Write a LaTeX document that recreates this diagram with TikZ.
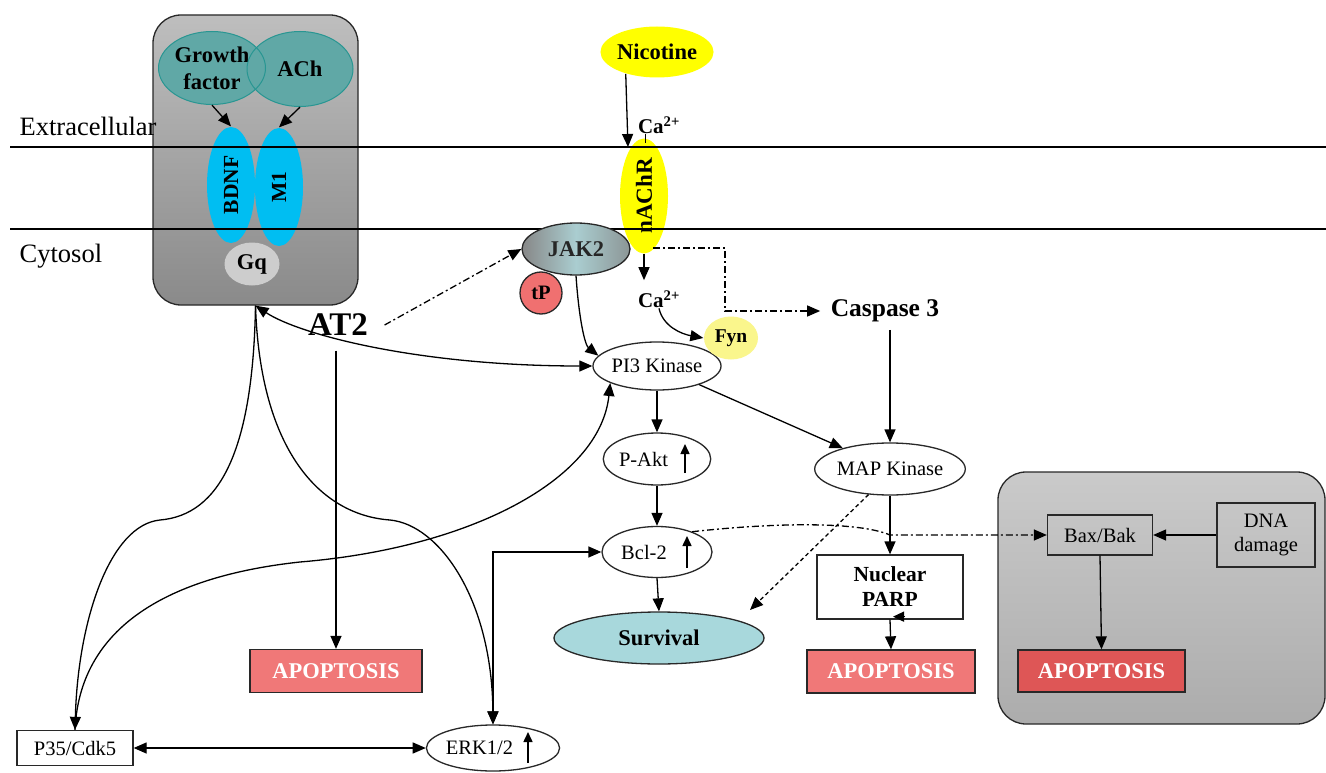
\documentclass[tikz,border=0pt]{standalone}
\usepackage{fontspec}
\setmainfont{Liberation Serif}
\usetikzlibrary{arrows.meta,shapes.geometric,calc}
\definecolor{tealF}{RGB}{96,168,166}
\definecolor{tealD}{RGB}{40,150,146}
\definecolor{cyanF}{RGB}{0,190,242}
\definecolor{yelF}{RGB}{255,255,0}
\definecolor{fynF}{RGB}{250,246,140}
\definecolor{gqF}{RGB}{205,205,205}
\definecolor{jakL}{RGB}{135,135,135}
\definecolor{jakM}{RGB}{170,205,208}
\definecolor{jakR}{RGB}{140,150,150}
\definecolor{tpF}{RGB}{240,112,112}
\definecolor{apF}{RGB}{240,120,120}
\definecolor{apD}{RGB}{222,86,86}
\definecolor{survF}{RGB}{168,216,220}
\definecolor{boxT}{RGB}{190,190,190}
\definecolor{boxB}{RGB}{138,138,138}
\definecolor{rboxT}{RGB}{202,202,202}
\definecolor{rboxB}{RGB}{172,172,172}
\definecolor{edge}{RGB}{40,40,40}
\newcommand\myfs[2]{\fontsize{#1}{#2}\selectfont}
\begin{document}
\begin{tikzpicture}[x=1pt,y=-1pt,line width=1.3pt,
  txt/.style={inner sep=0pt, align=center, font=\myfs{20.5}{24}},
  btxt/.style={inner sep=0pt, align=center, font=\myfs{22.5}{27}\bfseries},
  ell/.style={txt, ellipse, draw=edge, fill=white},
  sbox/.style={txt, rectangle, draw=edge},
  apop/.style={rectangle, draw=edge, fill=apF, text=white, inner sep=0pt, font=\myfs{22.5}{25}\bfseries},
  tealell/.style={btxt, ellipse, fill=tealF},
  cyanell/.style={btxt, ellipse, fill=cyanF, font=\myfs{21.5}{23}\bfseries},
  lbox/.style={draw=edge, rounded corners=28pt, top color=boxT, bottom color=boxB, minimum width=205pt, minimum height=290pt},
  rbox/.style={draw=edge, rounded corners=28pt, top color=rboxT, bottom color=rboxB, minimum width=327pt, minimum height=252pt},
  arr/.style={-{Triangle[length=13pt,width=11pt]}},
  arrs/.style={{Triangle[length=13pt,width=11pt]}-{Triangle[length=13pt,width=11pt]}},
  dd/.style={dash pattern=on 7pt off 3pt on 2pt off 3pt},
  ds/.style={dash pattern=on 4pt off 3pt},
  uparr/.style={-{Triangle[length=10pt,width=9pt]}, line width=1.5pt}
]
\useasboundingbox (0,0) rectangle (1326,773);
\fill[white] (0,0) rectangle (1326,773);

% left receptor box
\node[lbox] (lb) at (255.5,160) {};
\node[tealell, minimum width=107pt, minimum height=73pt] (gf) at (212,68) {Growth\\factor};
\node[tealell, minimum width=106pt, minimum height=75pt] (ach) at (300,69) {ACh};
\draw[tealD, line width=1pt] (gf.center) ellipse[x radius=53.5pt, y radius=36.5pt];
\draw[tealD, line width=1pt] (ach.center) ellipse[x radius=53pt, y radius=37.5pt];
\node[cyanell, rotate=90, minimum width=116pt, minimum height=48pt] (bdnf) at (231,185) {BDNF};
\node[cyanell, rotate=90, minimum width=118pt, minimum height=48pt] (m1) at (279,187) {M1};
\node[btxt, ellipse, fill=gqF, minimum width=55pt, minimum height=43pt] (gq) at (252,264) {Gq};
\draw[arr] (gf.south) -- (bdnf.east);
\draw[arr] (ach.south) -- (m1.east);

% nicotine / nAChR
\node[btxt, ellipse, fill=yelF, minimum width=98pt, minimum height=51pt] (nic) at (657,52) {Nicotine};
\node[btxt, ellipse, fill=yelF, rotate=90, minimum width=115pt, minimum height=48pt, font=\myfs{23}{25}\bfseries] (nachr) at (644,196) {nAChR};
\coordinate (memtop) at (628,147);
\draw[arr] (nic.215) -- (memtop);
\node[btxt, font=\myfs{21}{23}\bfseries] (ca1) at (659,125) {Ca\textsuperscript{2+}};
\draw ($(ca1.south west)+(8,0)$) -- ++(0,9);

% membrane lines and labels
\draw (10,147) -- (1326,147);
\draw (10,229) -- (1326,229);
\node[txt, font=\myfs{26.5}{29}, anchor=base west] (ext) at (19,136) {Extracellular};
\node[txt, font=\myfs{26.5}{29}, anchor=base west] (cyt) at (19,262) {Cytosol};

% JAK2, tP, Ca, Fyn
\node[btxt, ellipse, draw=edge, left color=jakL, right color=jakR, middle color=jakM, minimum width=108pt, minimum height=52pt, text=black!85] (jak) at (576,249) {JAK2};
\node[btxt, circle, draw=edge, fill=tpF, minimum size=42pt, font=\myfs{20.5}{22}\bfseries] (tp) at (541,293) {tP};
\node[btxt, font=\myfs{21}{23}\bfseries] (ca2) at (659,299) {Ca\textsuperscript{2+}};
\draw[arr] (nachr.west) -- ++(0,26);

% main pathway nodes
\node[ell, minimum width=120pt, minimum height=48pt] (pi3) at (657,366) {PI3 Kinase};
\node[btxt, ellipse, fill=fynF, minimum width=54pt, minimum height=43pt, font=\myfs{19.5}{21}\bfseries] (fyn) at (731,338) {Fyn};
\draw[arr] (ca2.south) .. controls +(4,18) and +(-22,-4) .. (fyn.west);
\node[btxt, font=\myfs{25.5}{27}\bfseries] (casp) at (885,311) {Caspase 3};
\node[btxt, font=\myfs{33}{35}\bfseries] (at2) at (338,325) {AT2};
\node[ell, minimum width=100pt, minimum height=52pt] (pakt) at (657,459) {P-Akt\hspace{27pt}};
\draw[uparr] ([xshift=28pt,yshift=-14pt]pakt.center) -- ++(0,-29);
\node[ell, minimum width=110pt, minimum height=51pt] (bcl) at (657,552) {Bcl-2\hspace{26pt}};
\draw[uparr] ([xshift=30pt,yshift=-16pt]bcl.center) -- ++(0,-32);
\node[ell, fill=survF, minimum width=210pt, minimum height=52pt, font=\myfs{22.5}{24}\bfseries] (surv) at (659,638) {Survival};
\node[ell, minimum width=125pt, minimum height=52pt] (map) at (890,469) {MAP Kinase};
\node[sbox, fill=white, minimum width=146pt, minimum height=64pt, font=\myfs{21.5}{25}\bfseries] (parp) at (890,587) {Nuclear\\PARP};
\node[apop, minimum width=168pt, minimum height=43pt] (apop2) at (891,671.5) {APOPTOSIS};
\node[apop, minimum width=172pt, minimum height=43pt] (apop1) at (336,671) {APOPTOSIS};
\node[sbox, fill=white, minimum width=116pt, minimum height=35pt] (p35) at (75,748) {P35/Cdk5};
\node[ell, minimum width=116pt, minimum height=46pt] (erk) at (493,748) {ERK1/2\hspace{27pt}};
\draw[uparr] ([xshift=35pt,yshift=-15pt]erk.center) -- ++(0,-31);

% right box
\node[rbox] (rb) at (1161.5,598) {};
\node[sbox, minimum width=105pt, minimum height=40pt] (bax) at (1100,535) {Bax/Bak};
\node[sbox, minimum width=98pt, minimum height=64pt] (dna) at (1266,535) {DNA\\damage};
\node[apop, fill=apD, minimum width=167pt, minimum height=42pt] (apop3) at (1101.5,671) {APOPTOSIS};

% connectors
\coordinate (dturn) at (725,0);
\draw[dd, arr] ($(nachr.center)+(9,52)$) -| (dturn |- casp.west) -- ([xshift=-10pt]casp.west);
\draw[arr] ([yshift=-7pt]casp.south -| map.north) -- (map.north);
\draw[dd, arr] ([xshift=16pt]at2.east) -- (jak.west);
\draw[arr] ([yshift=-14pt]at2.south -| apop1.north) -- (apop1.north);
\draw[arrs] (lb.south) .. controls (300,335) and (420,366) .. (pi3.west);
\draw[arr] (lb.south) .. controls (253,450) and (220,515) .. (160,520) .. controls (110,525) and (78,620) .. (p35.north);
\draw[arr] (lb.south) .. controls (260,450) and (320,515) .. (390,520) .. controls (440,525) and (492,600) .. (erk.north);
\draw[arr] (p35.north) .. controls (80,620) and (180,575) .. (300,562) .. controls (470,548) and (600,480) .. (pi3.200);
\draw[arrs] (erk.north) |- (bcl.west);
\draw[arrs] (p35.east) -- (erk.west);
\draw[arr] (jak.south) .. controls (579,320) and (585,345) .. (pi3.170);
\draw[arr] (pi3.south) -- (pakt.north);
\draw[arr] (pakt.south) -- (bcl.north);
\draw[arr] (bcl.south) -- (surv.north);
\draw[arr] (pi3) -- (map);
\draw[arr] (map.south) -- (parp.north);
\draw[arr] (parp.south) -- (apop2.north);
\draw[-{Triangle[length=11pt,width=10pt]}] ([xshift=15pt,yshift=3pt]parp.south) -- ([xshift=3pt,yshift=3pt]parp.south);
\coordinate (survtip) at (750,610);
\draw[ds, arr] (map.230) -- (survtip);
\draw[dd, arr] (bcl.30) .. controls (780,522) and (860,522) .. (890,535) -- (bax.west);
\draw[arr] (dna.west) -- (bax.east);
\draw[arr] (bax.south) -- (apop3.north);
\end{tikzpicture}
\end{document}
